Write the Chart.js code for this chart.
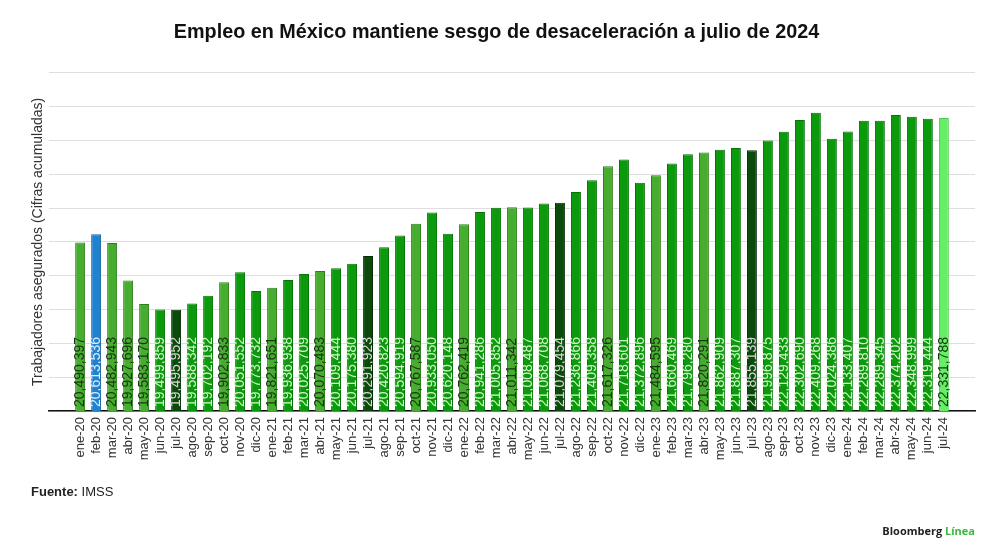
<!DOCTYPE html>
<html lang="es">
<head>
<meta charset="utf-8">
<title>Empleo en México</title>
<script src="https://cdn.jsdelivr.net/npm/chart.js@4.4.1/dist/chart.umd.min.js"></script>
<style>
	html, body { margin: 0; padding: 0; background: #fff; }
	#wrap { position: relative; width: 1000px; height: 556px; }
	#grafica { position: absolute; left: 0; top: 0; }
	.fuente { position: absolute; left: 31px; top: 484px; font: 13px "Liberation Sans", Arial, sans-serif; color: #222; }
	.fuente b { font-weight: bold; }
	.marca { position: absolute; right: 25px; top: 523px; font: bold 11px "Open Sans", "Liberation Sans", sans-serif; color: #222; }
	.marca span { color: #3cb83c; }
</style>
</head>
<body>
<div id="wrap">
	<canvas id="grafica" width="1000" height="556"></canvas>
	<div class="fuente"><b>Fuente:</b> IMSS</div>
	<div class="marca">Bloomberg <span>Línea</span></div>
</div>
<script>
const meses = [
	'ene-20', 'feb-20', 'mar-20', 'abr-20', 'may-20', 'jun-20', 'jul-20', 'ago-20', 'sep-20', 'oct-20', 'nov-20', 'dic-20',
	'ene-21', 'feb-21', 'mar-21', 'abr-21', 'may-21', 'jun-21', 'jul-21', 'ago-21', 'sep-21', 'oct-21', 'nov-21', 'dic-21',
	'ene-22', 'feb-22', 'mar-22', 'abr-22', 'may-22', 'jun-22', 'jul-22', 'ago-22', 'sep-22', 'oct-22', 'nov-22', 'dic-22',
	'ene-23', 'feb-23', 'mar-23', 'abr-23', 'may-23', 'jun-23', 'jul-23', 'ago-23', 'sep-23', 'oct-23', 'nov-23', 'dic-23',
	'ene-24', 'feb-24', 'mar-24', 'abr-24', 'may-24', 'jun-24', 'jul-24'
];

const trabajadores = [
	20490397, 20613536, 20482943, 19927696, 19583170, 19499859, 19495952, 19588342, 19702192, 19902833, 20051552, 19773732,
	19821651, 19936938, 20025709, 20070483, 20109444, 20175380, 20291923, 20420823, 20594919, 20767587, 20933050, 20620148,
	20762419, 20941286, 21005852, 21011342, 21008487, 21068708, 21079454, 21236866, 21409358, 21617326, 21718601, 21372896,
	21484595, 21660469, 21796280, 21820291, 21862909, 21887307, 21855139, 21996875, 22129433, 22302690, 22409268, 22024386,
	22133407, 22289810, 22289345, 22374202, 22348999, 22319444, 22331788
];

// tono de cada barra: c = verde claro, m = verde medio, o = julio (oscuro), a = feb-20, u = último dato
const tonos = [
	'c', 'a', 'c', 'c', 'c', 'm', 'o', 'm', 'm', 'c', 'm', 'm',
	'c', 'm', 'm', 'c', 'm', 'm', 'o', 'm', 'm', 'c', 'm', 'm',
	'c', 'm', 'm', 'c', 'm', 'm', 'o', 'm', 'm', 'c', 'm', 'm',
	'c', 'm', 'm', 'c', 'm', 'm', 'o', 'm', 'm', 'm', 'm', 'm',
	'm', 'm', 'm', 'm', 'm', 'm', 'u'
];

const relleno = {c: '#46ad2f', m: '#0b9a0b', o: '#0b4a0b', a: '#1f82cf', u: '#66ee66'};
const borde = {c: '#2f7d1f', m: '#087208', o: '#062e06', a: '#16609a', u: '#4cc84c'};
const texto = {c: '#173512', m: '#d4f5cc', o: '#d8d8d8', a: '#dcecfb', u: '#173512'};

function formatoMiles(n) {
	return String(n).replace(/\B(?=(\d{3})+(?!\d))/g, ',');
}

//Etiquetas con el valor dentro de cada barra
const etiquetasBarras = {
	id: 'etiquetasBarras',
	afterDraw(chart) {
		const ctx = chart.ctx;
		const xScale = chart.scales.x;
		const base = chart.scales.y.bottom;
		ctx.save();
		ctx.font = '14px "Liberation Sans", Arial, sans-serif';
		ctx.textAlign = 'left';
		ctx.textBaseline = 'middle';
		trabajadores.forEach(function(valor, i) {
			ctx.save();
			ctx.translate(xScale.getPixelForValue(i), base - 4);
			ctx.rotate(-Math.PI / 2);
			ctx.fillStyle = texto[tonos[i]];
			ctx.fillText(formatoMiles(valor), 0, 0.5);
			ctx.restore();
		});
		ctx.restore();
	}
};

new Chart(document.getElementById('grafica'), {
	type: 'bar',
	data: {
		datasets: [{
			data: trabajadores.map((v, i) => ({x: i, y: v})),
			backgroundColor: tonos.map(t => relleno[t]),
			borderColor: tonos.map(t => borde[t]),
			borderWidth: 1,
			barPercentage: 0.62,
			categoryPercentage: 1
		}]
	},
	options: {
		responsive: false,
		animation: false,
		layout: {
			padding: {left: 18, right: 25, top: 0, bottom: 0}
		},
		plugins: {
			legend: {display: false},
			tooltip: {enabled: false},
			title: {
				display: true,
				text: 'Empleo en México mantiene sesgo de desaceleración a julio de 2024',
				color: '#111',
				font: {family: '"Liberation Sans", Arial, sans-serif', size: 19.8, weight: 'bold'},
				padding: {top: 21, bottom: 28}
			}
		},
		scales: {
			x: {
				type: 'linear',
				min: -1.42,
				max: 55.42,
				afterBuildTicks(scale) {
					scale.ticks = meses.map((m, i) => ({value: i}));
				},
				afterFit(scale) {
					scale.height = 145;
				},
				grid: {display: false, drawTicks: false},
				border: {display: true, color: '#111', width: 1.5},
				ticks: {
					autoSkip: false,
					minRotation: 90,
					maxRotation: 90,
					padding: 6,
					color: '#333',
					font: {family: '"Liberation Sans", Arial, sans-serif', size: 13},
					callback: (v) => meses[v]
				}
			},
			y: {
				min: 18000000,
				max: 23000000,
				afterFit(scale) {
					scale.width = 31;
				},
				ticks: {display: false, stepSize: 500000},
				grid: {color: '#dedede', lineWidth: 1, drawTicks: false},
				border: {display: false},
				title: {
					display: true,
					text: 'Trabajadores asegurados (Cifras acumuladas)',
					color: '#333',
					font: {family: '"Liberation Sans", Arial, sans-serif', size: 14},
					padding: {top: 12, bottom: 0}
				}
			}
		}
	},
	plugins: [etiquetasBarras]
});
</script>
</body>
</html>
